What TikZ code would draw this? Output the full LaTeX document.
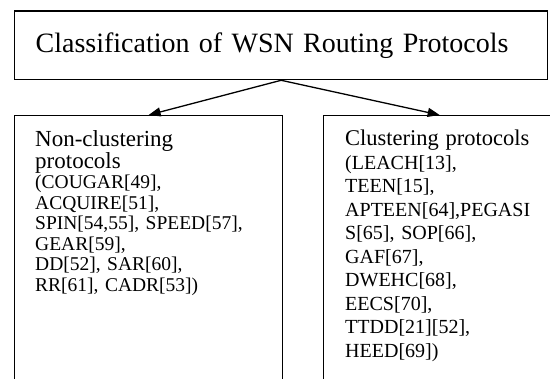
\documentclass[tikz,border=0pt]{standalone}
\usepackage{fontspec}
\setmainfont{Liberation Serif}
\usetikzlibrary{arrows.meta}
\tikzset{
  frame/.style={draw=black, line width=1.3pt, inner sep=0pt, anchor=north west},
  conn/.style={line width=1.3pt, -{Triangle[length=12pt,width=9pt]}},
  listtext/.style={anchor=north west, inner sep=0pt, align=left, text width=300pt},
}
\newcommand{\headfont}{\fontsize{23}{20.5}\selectfont}
\begin{document}
\begin{tikzpicture}[x=1pt,y=1pt]
\useasboundingbox (0,0) rectangle (550,379);
\clip (0,0) rectangle (550,379);
\fill[white] (0,0) rectangle (550,379);
% top box
\node[frame, minimum width=533pt, minimum height=68.5pt, text width=491pt,
      inner xsep=21pt, align=left, font=\fontsize{28}{32}\selectfont]
      (top) at (14,368.5) {Classification of WSN Routing Protocols};
% lower boxes
\node[frame, minimum width=268pt, minimum height=290pt] (left) at (14,264) {};
\node[frame, minimum width=232pt, minimum height=290pt] (right) at (323,264) {};
% texts
\node[listtext, font=\fontsize{19.5}{20.5}\selectfont] (lt) at (35,249) {{\headfont Non-clustering}\\{\headfont protocols}\\(COUGAR[49],\\ACQUIRE[51],\\SPIN[54,55], SPEED[57],\\GEAR[59],\\DD[52], SAR[60],\\RR[61], CADR[53])};
\node[listtext, font=\fontsize{20}{23.5}\selectfont] (rt) at (345,249) {{\fontsize{22.5}{23.5}\selectfont Clustering protocols}\\(LEACH[13],\\TEEN[15],\\APTEEN[64],PEGASI\\S[65], SOP[66],\\GAF[67],\\DWEHC[68],\\EECS[70],\\TTDD[21][52],\\HEED[69])};
% connectors
\draw[conn] (top.south) -- (left.north);
\draw[conn] (top.south) -- (right.north);
\end{tikzpicture}
\end{document}
